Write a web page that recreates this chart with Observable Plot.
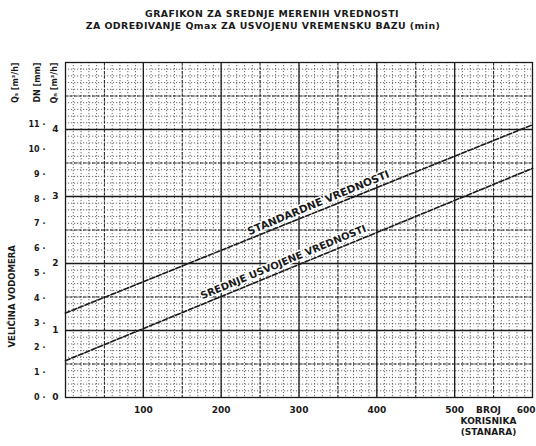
<!DOCTYPE html>
<html><head><meta charset="utf-8">
<script src="https://cdn.jsdelivr.net/npm/d3@7"></script>
<script src="https://cdn.jsdelivr.net/npm/@observablehq/plot@0.6"></script>
<style>
body{margin:0;background:#fff;font-family:"DejaVu Sans",sans-serif;}
#title{height:35px;position:relative;color:#1a1a1a;font-weight:bold;font-size:9.4px;letter-spacing:0.45px;width:536px;}
#title div{position:absolute;width:536px;text-align:center;white-space:nowrap;}
svg{display:block;}
</style></head><body>
<div id="title">
<div style="top:8px;left:4px">GRAFIKON ZA SREDNJE MERENIH VREDNOSTI</div>
<div style="top:20px;left:-5px">ZA ODREĐIVANJE Qmax ZA USVOJENU VREMENSKU BAZU (min)</div>
</div>
<div id="chart"></div>
<script>
// Data
const users = [0, 600];
const meanValues = [0.55, 3.42];      // lower line: srednje usvojene vrednosti
const standardValues = [1.26, 4.07];  // upper line: standardne vrednosti
const xTicks = [100, 200, 300, 400, 500];
const xLastTick = [600];
const yTicks = [0, 1, 2, 3, 4];
const secTicks = [0,1,2,3,4,5,6,7,8,9,10,11];
const secMax = 13.5;
const lineNames = ["SREDNJE USVOJENE VREDNOSTI", "STANDARDNE VREDNOSTI"];

const lower = users.map((u, i) => ({u, v: meanValues[i]}));
const upper = users.map((u, i) => ({u, v: standardValues[i]}));

const minorX = d3.range(0, 601, 10);
const minorY = d3.range(0, 5.001, 0.1);
const midX = d3.range(50, 600, 100);
const midY = d3.range(0.5, 5, 1);
const majX = [100, 200, 300, 400, 500];
const majY = [1, 2, 3, 4];

const ink = "#1a1a1a";
const chart = Plot.plot({
  width: 536, height: 411,
  marginLeft: 65, marginRight: 4, marginTop: 27, marginBottom: 49,
  x: {domain: [0, 600]},
  y: {domain: [0, 5]},
  style: {fontFamily: "DejaVu Sans, sans-serif", fontWeight: "bold", fontSize: "9px", color: ink},
  marks: [
    Plot.ruleX(minorX, {stroke: "#444", strokeWidth: 0.8, strokeDasharray: "1.2,1.8"}),
    Plot.ruleY(minorY, {stroke: "#444", strokeWidth: 0.8, strokeDasharray: "1.2,1.8"}),
    Plot.ruleX(midX, {stroke: "#222", strokeWidth: 1, strokeDasharray: "3,1.5"}),
    Plot.ruleY(midY, {stroke: "#222", strokeWidth: 1, strokeDasharray: "3,1.5"}),
    Plot.ruleX(majX, {stroke: ink, strokeWidth: 1.3}),
    Plot.ruleY(majY, {stroke: ink, strokeWidth: 1.3}),
    Plot.frame({stroke: ink, strokeWidth: 1.3}),
    Plot.line(lower, {x: "u", y: "v", stroke: ink, strokeWidth: 1.6, strokeDasharray: "5,2"}),
    Plot.line(upper, {x: "u", y: "v", stroke: ink, strokeWidth: 1.6, strokeDasharray: "5,2"}),
    Plot.text([lineNames[0]], {x: 280, y: 2.05, text: d => d, rotate: -22.5, fontSize: 10, fill: ink, stroke: "white", strokeWidth: 3, dy: 2}),
    Plot.text([lineNames[1]], {x: 325, y: 2.95, text: d => d, rotate: -22.5, fontSize: 10.5, fill: ink, stroke: "white", strokeWidth: 3, dy: 3}),
    Plot.axisX({ticks: xTicks, tickSize: 0, tickPadding: 9, fontSize: 9, fontWeight: "bold", label: null, tickFormat: d => String(d)}),
    Plot.axisX({ticks: xLastTick, tickSize: 0, tickPadding: 9, fontSize: 9, fontWeight: "bold", label: null, textAnchor: "end", dx: 3, tickFormat: d => String(d)}),
    Plot.axisY({ticks: yTicks, tickSize: 0, tickPadding: 7, fontSize: 9, fontWeight: "bold", label: null, tickFormat: d => String(d)}),
    Plot.text(secTicks, {frameAnchor: "left", y: d => d * 5 / secMax, text: d => d + " ·", dx: -20, textAnchor: "end", fontSize: 8, fill: ink}),
    Plot.text(["Qₛ [m³/h]"], {frameAnchor: "top-left", dx: -53, rotate: -90, textAnchor: "end", fontSize: 8, fill: ink}),
    Plot.text(["DN [mm]"], {frameAnchor: "top-left", dx: -31, rotate: -90, textAnchor: "end", fontSize: 8, fill: ink}),
    Plot.text(["Qₙ [m³/h]"], {frameAnchor: "top-left", dx: -14, rotate: -90, textAnchor: "end", fontSize: 8, fill: ink}),
    Plot.text(["VELIČINA VODOMERA"], {frameAnchor: "bottom-left", dx: -51, dy: -50, rotate: -90, textAnchor: "start", fontSize: 8.5, fill: ink}),
    Plot.text(["BROJ\nKORISNIKA\n(STANARA)"], {frameAnchor: "bottom-right", dx: -44, dy: 8, lineAnchor: "top", lineHeight: 1.2, textAnchor: "middle", fontSize: 9, fill: ink})
  ]
});
document.getElementById("chart").appendChild(chart);
</script>
</body></html>
